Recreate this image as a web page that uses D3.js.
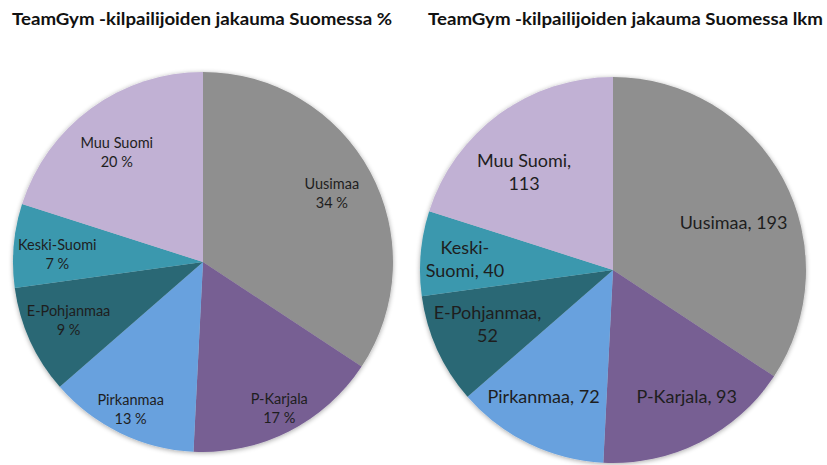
<!DOCTYPE html>
<html><head><meta charset="utf-8">
<script src="https://cdn.jsdelivr.net/npm/d3@7"></script>
<style>html,body{margin:0;padding:0;background:#fff;}svg{display:block;}</style>
</head><body>
<svg id="chart" width="827" height="465"></svg>
<script>
// ---- data ----
const categories = ["Uusimaa", "P-Karjala", "Pirkanmaa", "E-Pohjanmaa", "Keski-Suomi", "Muu Suomi"];
const counts = [193, 93, 72, 52, 40, 113];
const percentLabels = ["34 %", "17 %", "13 %", "9 %", "7 %", "20 %"];
const countLabelLines = [["Uusimaa, 193"], ["P-Karjala, 93"], ["Pirkanmaa, 72"], ["E-Pohjanmaa,", "52"], ["Keski-", "Suomi, 40"], ["Muu Suomi,", "113"]];
const titles = ["TeamGym -kilpailijoiden jakauma Suomessa %", "TeamGym -kilpailijoiden jakauma Suomessa lkm"];

// ---- style ----
const colors = ["#8f8f8f", "#775f93", "#68a1de", "#2a6875", "#3b98ae", "#c1b1d4"];
const labelRadiusLeft = [0.77, 0.83, 0.86, 0.76, 0.77, 0.77];
const labelRadiusRight = [0.68, 0.80, 0.80, 0.72, 0.77, 0.72];
const labelShiftLeft = [[0, 1], [5, 6], [-1, 0], [-3, -1], [0, 5], [0, 9]];
const labelShiftRight = [[5, 15], [4, -11], [-2, -12], [1, -3], [0, 2], [-7, 14]];

const svg = d3.select("#chart");
const defs = svg.append("defs");
const f = defs.append("filter").attr("id", "sh").attr("x", "-10%").attr("y", "-10%").attr("width", "120%").attr("height", "120%");
f.append("feGaussianBlur").attr("in", "SourceAlpha").attr("stdDeviation", 2.5).attr("result", "b");
f.append("feOffset").attr("in", "b").attr("dx", 0).attr("dy", 1).attr("result", "o");
f.append("feComponentTransfer").attr("in", "o").attr("result", "o2").append("feFuncA").attr("type", "linear").attr("slope", 0.35);
const m = f.append("feMerge"); m.append("feMergeNode").attr("in", "o2"); m.append("feMergeNode").attr("in", "SourceGraphic");

const pie = d3.pie().sort(null).value(d => d.v);
const data = categories.map((c, i) => ({c, v: counts[i], i}));

function drawPie(cx, cy, r, labelFn, lrad, shift, fontSize, lineH) {
  const g = svg.append("g").attr("transform", `translate(${cx},${cy})`);
  const arcs = pie(data);
  const arc = d3.arc().innerRadius(0).outerRadius(r);
  g.append("g").attr("filter", "url(#sh)").selectAll("path").data(arcs).enter().append("path")
    .attr("d", arc).attr("fill", d => colors[d.data.i]);
  arcs.forEach(d => {
    const la = d3.arc().innerRadius(0).outerRadius(r * lrad[d.data.i] * 2);
    let [x, y] = la.centroid(d);
    x += shift[d.data.i][0]; y += shift[d.data.i][1];
    const lines = labelFn(d.data.i);
    const t = g.append("text").attr("text-anchor", "middle")
      .attr("font-family", "Lato, 'Open Sans', sans-serif").attr("font-size", fontSize)
      .attr("fill", "#1e1e1e");
    const n = lines.length;
    lines.forEach((ln, k) => {
      t.append("tspan").attr("x", x).attr("y", y + (k - (n - 1) / 2) * lineH + fontSize * 0.35).text(ln);
    });
  });
}

drawPie(203, 262, 190, i => [categories[i], percentLabels[i]], labelRadiusLeft, labelShiftLeft, 14.5, 19);
drawPie(613, 270, 193, i => countLabelLines[i], labelRadiusRight, labelShiftRight, 18, 23);

svg.append("text").attr("x", 12).attr("y", 25).attr("font-family", "Lato, sans-serif").attr("font-weight", "bold")
  .attr("font-size", 17).attr("fill", "#111").attr("textLength", 380).attr("lengthAdjust", "spacingAndGlyphs").text(titles[0]);
svg.append("text").attr("x", 428).attr("y", 25).attr("font-family", "Lato, sans-serif").attr("font-weight", "bold")
  .attr("font-size", 17).attr("fill", "#111").attr("textLength", 395).attr("lengthAdjust", "spacingAndGlyphs").text(titles[1]);
</script>
</body></html>
